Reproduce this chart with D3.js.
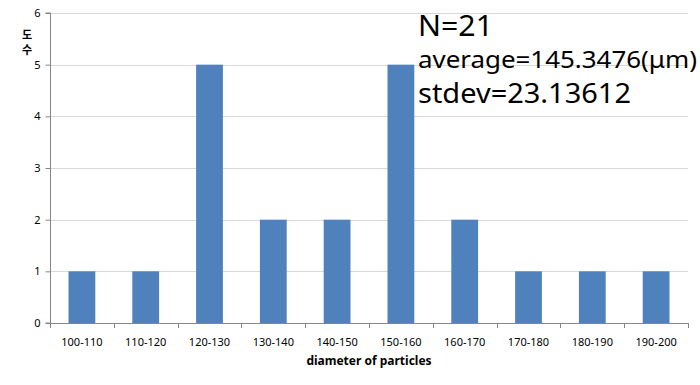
<!DOCTYPE html>
<html><head><meta charset="utf-8">
<script src="https://cdn.jsdelivr.net/npm/d3@7"></script>
<style>body{margin:0;background:#fff}svg{display:block}text{font-family:"Noto Sans","Open Sans",sans-serif}</style>
</head><body>
<script>
const categories = ["100-110","110-120","120-130","130-140","140-150","150-160","160-170","170-180","180-190","190-200"];
const counts = [1,1,5,2,2,5,2,1,1,1];
const yTicks = [0,1,2,3,4,5,6];
const notes = ["N=21","average=145.3476(μm)","stdev=23.13612"];
const xTitle = "diameter of particles";
const yTitle = ["도","수"];

const W=700,H=385, L=50, R=688, T=13, B=323;
const svg=d3.select("body").append("svg").attr("width",W).attr("height",H);
const x=d3.scaleBand().domain(categories).range([L,R]).paddingInner(0.58).paddingOuter(0.29);
const xb=d3.scaleBand().domain(categories).range([L,R]);
const y=d3.scaleLinear().domain([0,6]).range([B,T]);

// gridlines
svg.append("g").selectAll("line").data(yTicks.filter(d=>d>0)).join("line")
  .attr("x1",L).attr("x2",R).attr("y1",d=>Math.round(y(d))+0.5).attr("y2",d=>Math.round(y(d))+0.5)
  .attr("stroke","#d9d9d9").attr("stroke-width",1);

// bars
svg.append("g").selectAll("rect").data(counts).join("rect")
  .attr("x",(d,i)=>x(categories[i])).attr("width",x.bandwidth())
  .attr("y",d=>y(d)).attr("height",d=>B-y(d)).attr("fill","#4f81bd");

// y axis
const ya=svg.append("g").attr("transform",`translate(${L+0.5},0)`)
  .call(d3.axisLeft(y).tickValues(yTicks).tickSize(5).tickFormat(d3.format("d")));
ya.select(".domain").attr("stroke","#868686").attr("d",`M-5,${T}H0V${B}H-5`);
ya.selectAll(".tick line").attr("stroke","#868686");
ya.selectAll(".tick text").attr("font-size",11).attr("fill","#000").attr("x",-10);

// x axis
const xa=svg.append("g").attr("transform",`translate(0,${B+0.5})`)
  .call(d3.axisBottom(xb).tickSize(0));
xa.select(".domain").attr("stroke","#868686").attr("d",`M${L},0H${R}`);
xa.selectAll(".tick text").attr("font-size",11).attr("fill","#000").attr("dy","1.8em");
svg.append("g").selectAll("line").data(d3.range(categories.length+1)).join("line")
  .attr("x1",i=>Math.round(L+i*xb.step())+0.5).attr("x2",i=>Math.round(L+i*xb.step())+0.5)
  .attr("y1",B).attr("y2",B+5).attr("stroke","#868686");

// titles
svg.append("text").attr("x",(L+R)/2).attr("y",365).attr("text-anchor","middle")
  .attr("font-size",12).attr("font-weight","bold").text(xTitle);
svg.append("g").selectAll("text").data(yTitle).join("text")
  .attr("x",27).attr("y",(d,i)=>39+i*15).attr("text-anchor","middle")
  .style("font-family",'"Noto Sans CJK KR",sans-serif')
  .attr("font-size",11).attr("font-weight","bold").text(d=>d);

// annotation
const noteY=[36,68,103], noteSize=[29,23,27], noteW=[75,279,213];
svg.append("g").selectAll("text").data(notes).join("text")
  .attr("x",418).attr("y",(d,i)=>noteY[i]).attr("font-size",(d,i)=>noteSize[i])
  .attr("textLength",(d,i)=>noteW[i]).attr("lengthAdjust","spacingAndGlyphs")
  .attr("fill","#000").text(d=>d);
</script>
</body></html>
